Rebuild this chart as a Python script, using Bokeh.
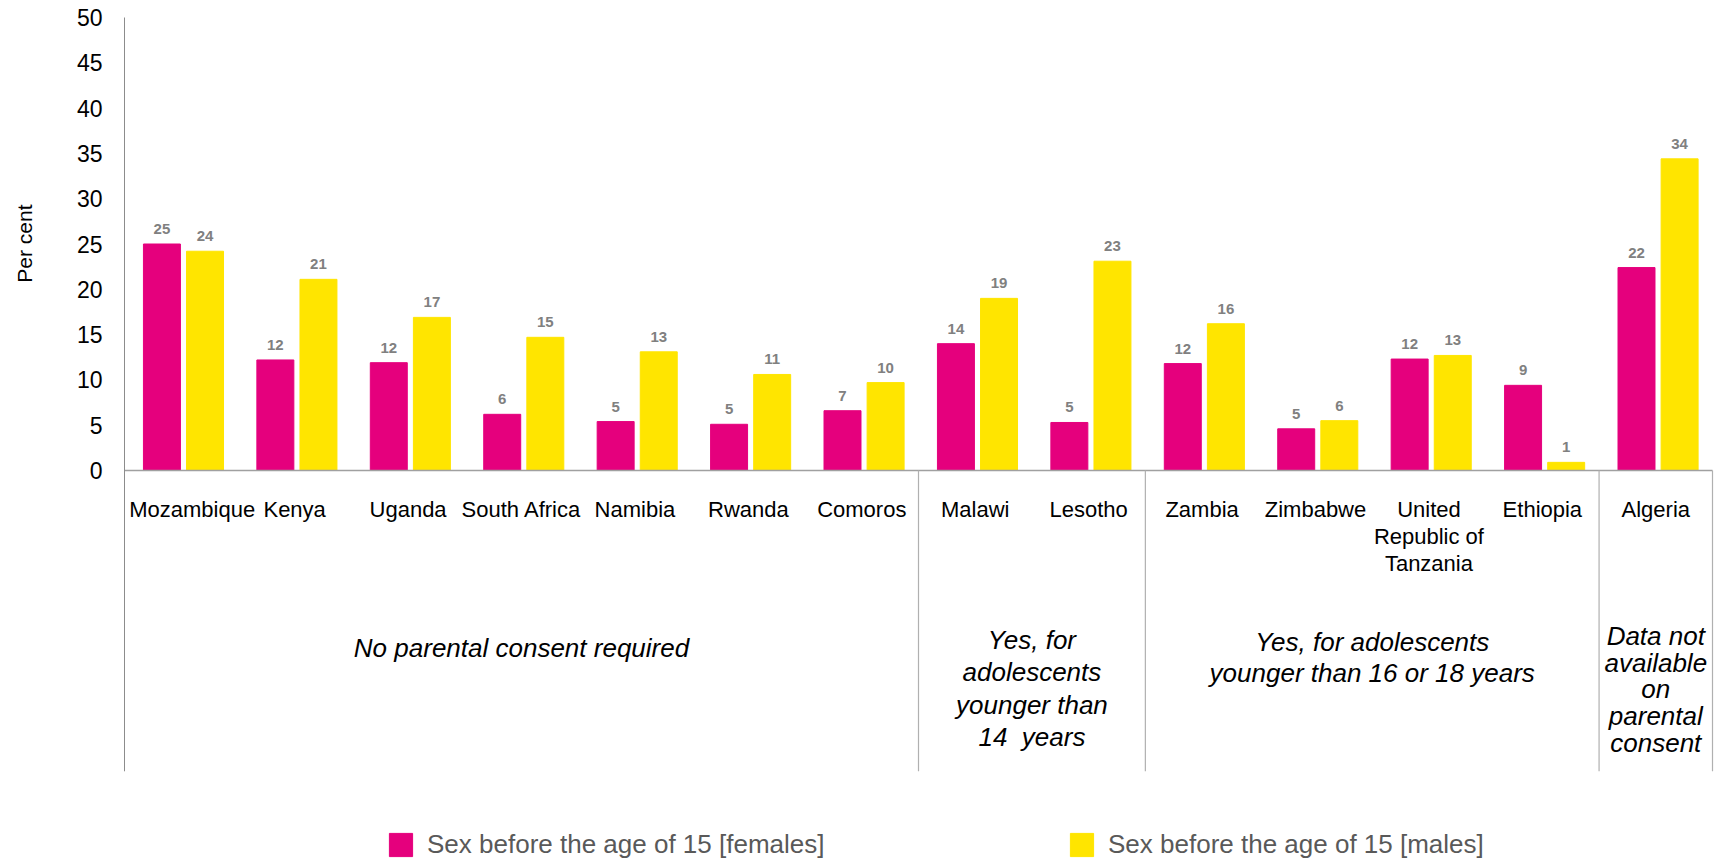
import math
from bokeh.plotting import figure
from bokeh.models import Range1d, FixedTicker, ColumnDataSource, Legend, LegendItem
from bokeh.core.properties import value
from bokeh.embed import file_html
from bokeh.resources import INLINE

# ---- data ----
countries = ["Mozambique", "Kenya", "Uganda", "South Africa", "Namibia", "Rwanda", "Comoros",
             "Malawi", "Lesotho", "Zambia", "Zimbabwe", "United\nRepublic of\nTanzania",
             "Ethiopia", "Algeria"]
females = [25.0, 12.2, 11.9, 6.2, 5.4, 5.1, 6.6, 14.0, 5.3, 11.8, 4.6, 12.3, 9.4, 22.4]
males = [24.2, 21.1, 16.9, 14.7, 13.1, 10.6, 9.7, 19.0, 23.1, 16.2, 5.5, 12.7, 0.9, 34.4]
series_names = ["Sex before the age of 15 [females]", "Sex before the age of 15 [males]"]
groups = ["No parental consent required",
          "Yes, for\nadolescents\nyounger than\n14\u00a0 years",
          "Yes, for adolescents\nyounger than 16 or 18 years",
          "Data not\navailable\non\nparental\nconsent"]
group_sizes = [7, 2, 4, 1]
y_ticks = [0, 5, 10, 15, 20, 25, 30, 35, 40, 45, 50]
y_title = "Per cent"

# ---- style / layout ----
PINK = "#E5007D"
YELLOW = "#FFE500"
FONT = "Liberation Sans"
BAR_W = 0.326
OFF_F, OFF_M = -0.17, 0.21
Y_BOTTOM_LINE = -33.2
group_yoff = [178, 218, 187, 219]
group_lh = [1.07, 1.07, 1.056, 0.885]
label_xoff = [11] + [0] * (len(countries) - 1)

n = len(countries)
idx = list(range(n))

# frame covers the whole canvas; scales chosen so the plot area sits like the original
p = figure(width=1716, height=860, output_backend="svg", toolbar_location=None,
           x_range=Range1d(-1.0932, n + 0.03526), y_range=Range1d(-43.0464, 51.8764),
           x_axis_type=None, min_border=0)
p.outline_line_color = None
p.xgrid.visible = False
p.ygrid.visible = False
p.background_fill_color = "white"
p.border_fill_color = "white"

ax = p.yaxis[0]
ax.fixed_location = 0
ax.ticker = FixedTicker(ticks=y_ticks)
ax.axis_line_color = None
ax.major_tick_line_color = None
ax.minor_tick_line_color = None
ax.major_label_standoff = 16
ax.major_label_text_font = FONT
ax.major_label_text_font_size = "23px"
ax.major_label_text_color = "#000000"

p.text(x=[-0.8816], y=[25.05], text=[y_title], angle=math.pi / 2, text_align="center",
       text_baseline="middle", text_font=value(FONT), text_font_size="21px",
       text_color="#000000")

src = ColumnDataSource(dict(
    xf=[i + 0.5 + OFF_F for i in idx],
    xm=[i + 0.5 + OFF_M for i in idx],
    f=females, m=males,
    lf=[str(int(round(v))) for v in females],
    lm=[str(int(round(v))) for v in males],
))

rf = p.vbar(x="xf", top="f", bottom=0, width=BAR_W, color=PINK, source=src)
rm = p.vbar(x="xm", top="m", bottom=0, width=BAR_W, color=YELLOW, source=src)

for xcol, ycol, lcol in (("xf", "f", "lf"), ("xm", "m", "lm")):
    p.text(x=xcol, y=ycol, text=lcol, source=src, text_align="center",
           text_baseline="alphabetic", y_offset=-15, text_font=value(FONT),
           text_font_size="15px", text_font_style="bold", text_color="#808080")

# baseline and axis line
p.segment(x0=[0], y0=[0], x1=[n], y1=[0], line_color="#a0a0a0", line_width=1.5)
p.segment(x0=[0], y0=[y_ticks[-1]], x1=[0], y1=[Y_BOTTOM_LINE], line_color="#8c8c8c", line_width=1)

# group separators
bounds = []
acc = 0
for s in group_sizes:
    acc += s
    bounds.append(acc)
p.segment(x0=bounds, y0=[0] * len(bounds), x1=bounds, y1=[Y_BOTTOM_LINE] * len(bounds),
          line_color="#b0b0b0", line_width=1.2)

# category labels
p.text(x=[i + 0.5 for i in idx], y=[0] * n, text=countries, x_offset=label_xoff,
       y_offset=27, text_align="center", text_baseline="top", text_font=value(FONT),
       text_font_size="22px", text_color="#000000", text_line_height=1.07)

# group labels
start = 0
for g, s, yo, lh in zip(groups, group_sizes, group_yoff, group_lh):
    p.text(x=[start + s / 2], y=[0], text=[g], y_offset=yo, text_align="center",
           text_baseline="middle", text_font=value(FONT), text_font_size="26px",
           text_font_style="italic", text_color="#000000", text_line_height=lh)
    start += s

legend = Legend(items=[LegendItem(label=series_names[0], renderers=[rf]),
                       LegendItem(label=series_names[1], renderers=[rm])],
                orientation="horizontal", location=(386, 0), padding=0, margin=0,
                spacing=0, glyph_width=29, glyph_height=29, label_standoff=12,
                label_width=640, label_text_font=FONT, label_text_font_size="26px",
                label_text_color="#595959", border_line_color=None,
                background_fill_alpha=0)
p.add_layout(legend)

open("out.html", "w").write(file_html(p, INLINE))
